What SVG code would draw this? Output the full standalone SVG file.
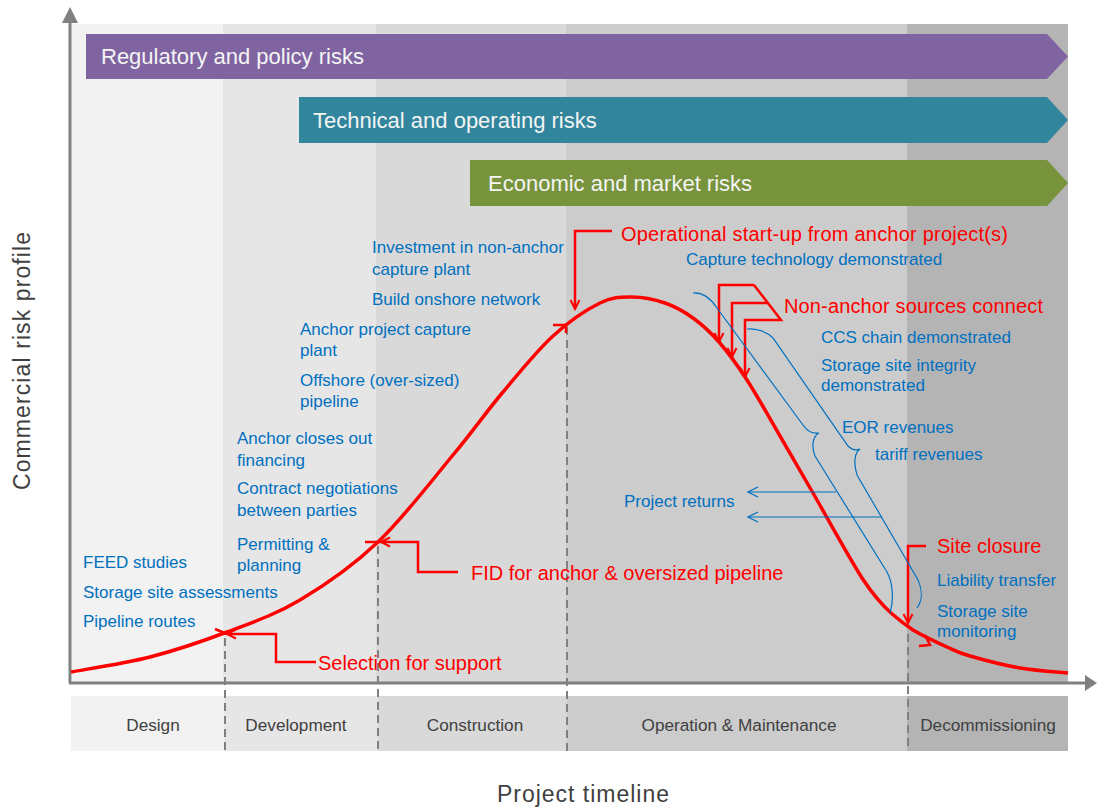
<svg xmlns="http://www.w3.org/2000/svg" width="1097" height="807" viewBox="0 0 1097 807">
<defs>
<style>
text{font-family:"Liberation Sans",Arial,sans-serif}
.blue{fill:#0070c0;font-size:17px}
.red{fill:#ff0000;font-size:20px}
.ban{fill:#f4f4f4;font-size:22px}
.phase{fill:#404040;font-size:17.2px;text-anchor:middle}
.axt{fill:#404040;font-size:23px;text-anchor:middle}
.rl{fill:none;stroke:#ff0000;stroke-width:2.5}
.bl{fill:none;stroke:#0070c0;stroke-width:1.2}
.dash{stroke:#808080;stroke-width:2;stroke-dasharray:8,5}
</style>
<marker id="ar" viewBox="0 0 12 12" refX="10" refY="6" markerWidth="12" markerHeight="12" markerUnits="userSpaceOnUse" orient="auto"><path d="M1,1.5 L10,6 L1,10.5" fill="none" stroke="#ff0000" stroke-width="2"/></marker>
<marker id="ab" viewBox="0 0 12 12" refX="11" refY="6" markerWidth="12" markerHeight="12" markerUnits="userSpaceOnUse" orient="auto"><path d="M1,1 L11,6 L1,11" fill="none" stroke="#0070c0" stroke-width="1.3"/></marker>
</defs>

<g id="panels">
<rect x="72" y="24" width="151" height="658" fill="#f2f2f2"/>
<rect x="223" y="24" width="153" height="658" fill="#e6e6e6"/>
<rect x="376" y="24" width="190" height="658" fill="#d9d9d9"/>
<rect x="566" y="24" width="341" height="658" fill="#cccccc"/>
<rect x="907" y="24" width="161" height="658" fill="#b4b4b4"/>
</g>

<g id="phase-band">
<rect x="71" y="696" width="153" height="55" fill="#f2f2f2"/>
<rect x="224" y="696" width="154" height="55" fill="#e6e6e6"/>
<rect x="378" y="696" width="189" height="55" fill="#d9d9d9"/>
<rect x="567" y="696" width="340" height="55" fill="#cccccc"/>
<rect x="907" y="696" width="161" height="55" fill="#b4b4b4"/>
<text class="phase" x="153" y="731">Design</text>
<text class="phase" x="296" y="731">Development</text>
<text class="phase" x="475" y="731">Construction</text>
<text class="phase" x="739" y="731">Operation &amp; Maintenance</text>
<text class="phase" x="988" y="731">Decommissioning</text>
</g>

<g id="banner-regulatory">
<polygon points="86,34 1047,34 1068,56.5 1047,79 86,79" fill="#8064a2"/>
<text class="ban" x="101" y="64">Regulatory and policy risks</text>
</g>
<g id="banner-technical">
<polygon points="299,97 1047,97 1068,120 1047,143 299,143" fill="#31859c"/>
<text class="ban" x="313" y="128">Technical and operating risks</text>
</g>
<g id="banner-economic">
<polygon points="470,160 1047,160 1068,183 1047,206 470,206" fill="#77933c"/>
<text class="ban" x="488" y="191">Economic and market risks</text>
</g>

<g id="dashes">
<line class="dash" x1="225" y1="638" x2="225" y2="751"/>
<line class="dash" x1="378" y1="546" x2="378" y2="751"/>
<line class="dash" x1="567" y1="327" x2="567" y2="751"/>
<line class="dash" x1="908" y1="634" x2="908" y2="751"/>
</g>

<g id="axes">
<line x1="70" y1="20" x2="70" y2="683" stroke="#808080" stroke-width="3"/>
<polygon points="70,7 78,23 62,23" fill="#808080"/>
<line x1="69" y1="683" x2="1088" y2="683" stroke="#808080" stroke-width="3"/>
<polygon points="1097,683 1085,675 1085,691" fill="#808080"/>
<text class="axt" transform="translate(30,361) rotate(-90)" textLength="258" lengthAdjust="spacing">Commercial risk profile</text>
<text class="axt" x="583" y="802" textLength="172" lengthAdjust="spacing">Project timeline</text>
</g>

<g id="risk-curve">
<path d="M71,672 C84.2,669.5 124,663.7 150,657 C176,650.3 202,641.5 227,632 C252,622.5 274.8,615 300,600 C325.2,585 352.5,566.2 378,542 C403.5,517.8 432.2,480 453,455 C473.8,430 486.3,411.8 503,392 C519.7,372.2 536.8,350.8 553,336 C569.2,321.2 586.8,309.5 600,303 C613.2,296.5 621.2,297 632,297 C642.8,297 654.8,299.5 665,303 C675.2,306.5 684,311.5 693,318 C702,324.5 710,331.7 719,342 C728,352.3 736.8,364.3 747,380 C757.2,395.7 769,417.2 780,436 C791,454.8 799.2,469 813,493 C826.8,517 848,556 862,578 C874,596 882,605 891,613 C899,620 904,624 913,630 C922.5,635.7 937.5,642.7 947,647 C956.5,651.3 957.8,652.5 970,656 C982.2,659.5 1003.7,665.2 1020,668 C1036.3,670.8 1060,672.2 1068,673" fill="none" stroke="#ff0000" stroke-width="3.5"/>
</g>

<g id="connectors">
<path class="rl" d="M316,662 L276,662 L276,634 L227,634" marker-end="url(#ar)"/>
<line class="rl" x1="227" y1="634" x2="215" y2="629"/>
<path class="rl" d="M458,572 L418,572 L418,542 L381,542" marker-end="url(#ar)"/>
<line class="rl" x1="381" y1="542" x2="365" y2="542"/>
<path class="rl" d="M612,231 L575,231 L575,309" marker-end="url(#ar)"/>
<path class="rl" d="M553,325 L567,325 M566,325 L566,333"/>
<path class="rl" d="M754,285 L719,285 L719,342" marker-end="url(#ar)"/>
<path class="rl" d="M768,303 L732,303 L732,357" marker-end="url(#ar)"/>
<path class="rl" d="M754,285 L781,320 L745,320 L745,377" marker-end="url(#ar)"/>
<path class="rl" d="M926,546 L908,546 L908,623" marker-end="url(#ar)"/>
<path class="rl" d="M925,635 L930,645 L919,646"/>
<path class="bl" d="M693,293 C703,292 711,299 717,308 L803,425 C807,431 812,434 819,433 C813,436 811,446 815,456 L887,572 C893,583 894,600 890,613"/>
<path class="bl" d="M747,329 C755,328 766,331 773,338 L848,446 C851,449 855,451 860,449 C855,452 853,462 857,475 L918,580 C922,589 923,600 917,608"/>
<line class="bl" x1="836" y1="492" x2="748" y2="492" marker-end="url(#ab)"/>
<line class="bl" x1="882" y1="517" x2="748" y2="517" marker-end="url(#ab)"/>
</g>

<g id="design-notes">
<text class="blue" x="83" y="568">FEED studies</text>
<text class="blue" x="83" y="598">Storage site assessments</text>
<text class="blue" x="83" y="627">Pipeline routes</text>
</g>
<g id="development-notes">
<text class="blue" x="237" y="444">Anchor closes out</text>
<text class="blue" x="237" y="466">financing</text>
<text class="blue" x="237" y="494">Contract negotiations</text>
<text class="blue" x="237" y="516">between parties</text>
<text class="blue" x="237" y="550">Permitting &amp;</text>
<text class="blue" x="237" y="571">planning</text>
</g>
<g id="construction-notes">
<text class="blue" x="300" y="335">Anchor project capture</text>
<text class="blue" x="300" y="356">plant</text>
<text class="blue" x="300" y="386">Offshore (over-sized)</text>
<text class="blue" x="300" y="407">pipeline</text>
<text class="blue" x="372" y="253">Investment in non-anchor</text>
<text class="blue" x="372" y="275">capture plant</text>
<text class="blue" x="372" y="305">Build onshore network</text>
</g>
<g id="operation-notes">
<text class="blue" x="686" y="265">Capture technology demonstrated</text>
<text class="blue" x="821" y="343">CCS chain demonstrated</text>
<text class="blue" x="821" y="371">Storage site integrity</text>
<text class="blue" x="821" y="391">demonstrated</text>
<text class="blue" x="842" y="433">EOR revenues</text>
<text class="blue" x="875" y="460">tariff revenues</text>
<text class="blue" x="624" y="507">Project returns</text>
</g>
<g id="decommissioning-notes">
<text class="blue" x="937" y="586">Liability transfer</text>
<text class="blue" x="937" y="617">Storage site</text>
<text class="blue" x="937" y="637">monitoring</text>
</g>
<g id="milestones">
<text class="red" x="318" y="670">Selection for support</text>
<text class="red" x="471" y="580">FID for anchor &amp; oversized pipeline</text>
<text class="red" x="621" y="241" textLength="387" lengthAdjust="spacing">Operational  start-up from anchor project(s)</text>
<text class="red" x="784" y="313" textLength="259" lengthAdjust="spacing">Non-anchor  sources connect</text>
<text class="red" x="937" y="553">Site closure</text>
</g>
</svg>
